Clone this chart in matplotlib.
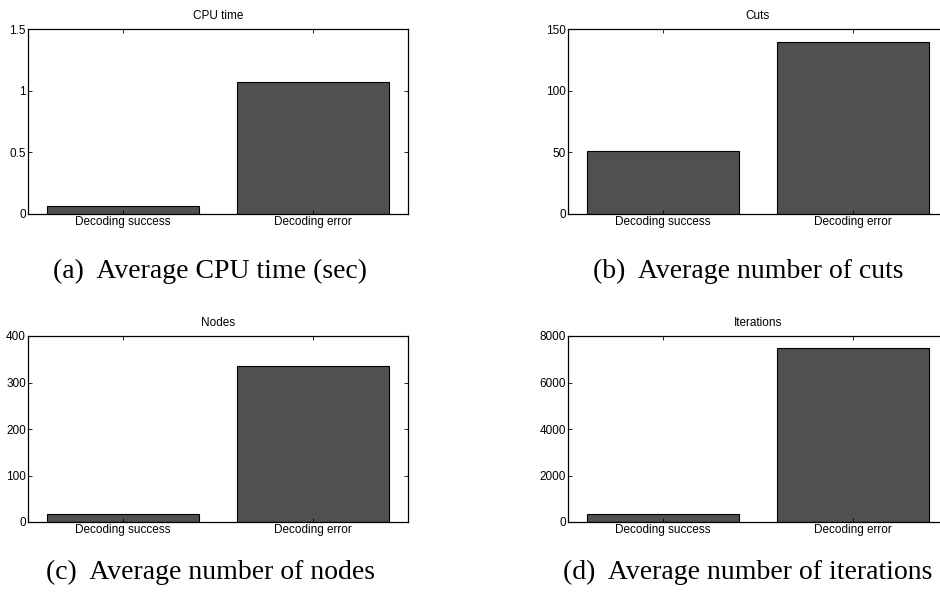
"""Four bar panels comparing decoding success and decoding error."""

import matplotlib

matplotlib.use("Agg")
import matplotlib.pyplot as plt
import numpy as np

categories = ["Decoding success", "Decoding error"]

cpu_time = [0.065, 1.068]
cuts = [50.8, 139.7]
nodes = [17.0, 336.5]
iterations = [355, 7475]

titles = ["CPU time", "Cuts", "Nodes", "Iterations"]
captions = [
    "(a)  Average CPU time (sec)",
    "(b)  Average number of cuts",
    "(c)  Average number of nodes",
    "(d)  Average number of iterations",
]
y_ticks = [
    ([0, 0.5, 1, 1.5], ["0", "0.5", "1", "1.5"]),
    ([0, 50, 100, 150], ["0", "50", "100", "150"]),
    ([0, 100, 200, 300, 400], ["0", "100", "200", "300", "400"]),
    ([0, 2000, 4000, 6000, 8000], ["0", "2000", "4000", "6000", "8000"]),
]

W, H = 940, 599
plt.rcParams["font.family"] = ["Liberation Sans", "DejaVu Sans"]

fig = plt.figure(figsize=(W / 100, H / 100), dpi=100)

# axes boxes in pixels: left, top, width, height
boxes = [(28, 29, 380, 185), (568, 29, 380, 185), (28, 336, 380, 186), (568, 336, 380, 186)]
caption_pos = [(210, 271), (748, 271), (210, 572), (748, 572)]
series = [cpu_time, cuts, nodes, iterations]

x = np.arange(1, len(categories) + 1)
for i, (left, top, width, height) in enumerate(boxes):
    ax = fig.add_axes([left / W, 1 - (top + height) / H, width / W, height / H])
    ax.bar(x, series[i], width=0.8, color="#505050", edgecolor="black", linewidth=0.8)
    ax.set_xlim(0.5, 2.5)
    ticks, labels = y_ticks[i]
    ax.set_ylim(ticks[0], ticks[-1])
    ax.set_yticks(ticks)
    ax.set_yticklabels(labels)
    ax.set_xticks(x)
    ax.set_xticklabels(categories)
    ax.tick_params(direction="in", length=3, width=0.6, labelsize=8.5, pad=1.5,
                   top=True, right=True)
    for spine in ax.spines.values():
        spine.set_linewidth(0.9)
    ax.set_title(titles[i], fontsize=8.5, pad=7)
    cx, cy = caption_pos[i]
    fig.text(cx / W, 1 - cy / H, captions[i], ha="center", va="center",
             fontsize=20, family=["Liberation Serif", "DejaVu Serif"])

fig.savefig("out.png", dpi=100)
